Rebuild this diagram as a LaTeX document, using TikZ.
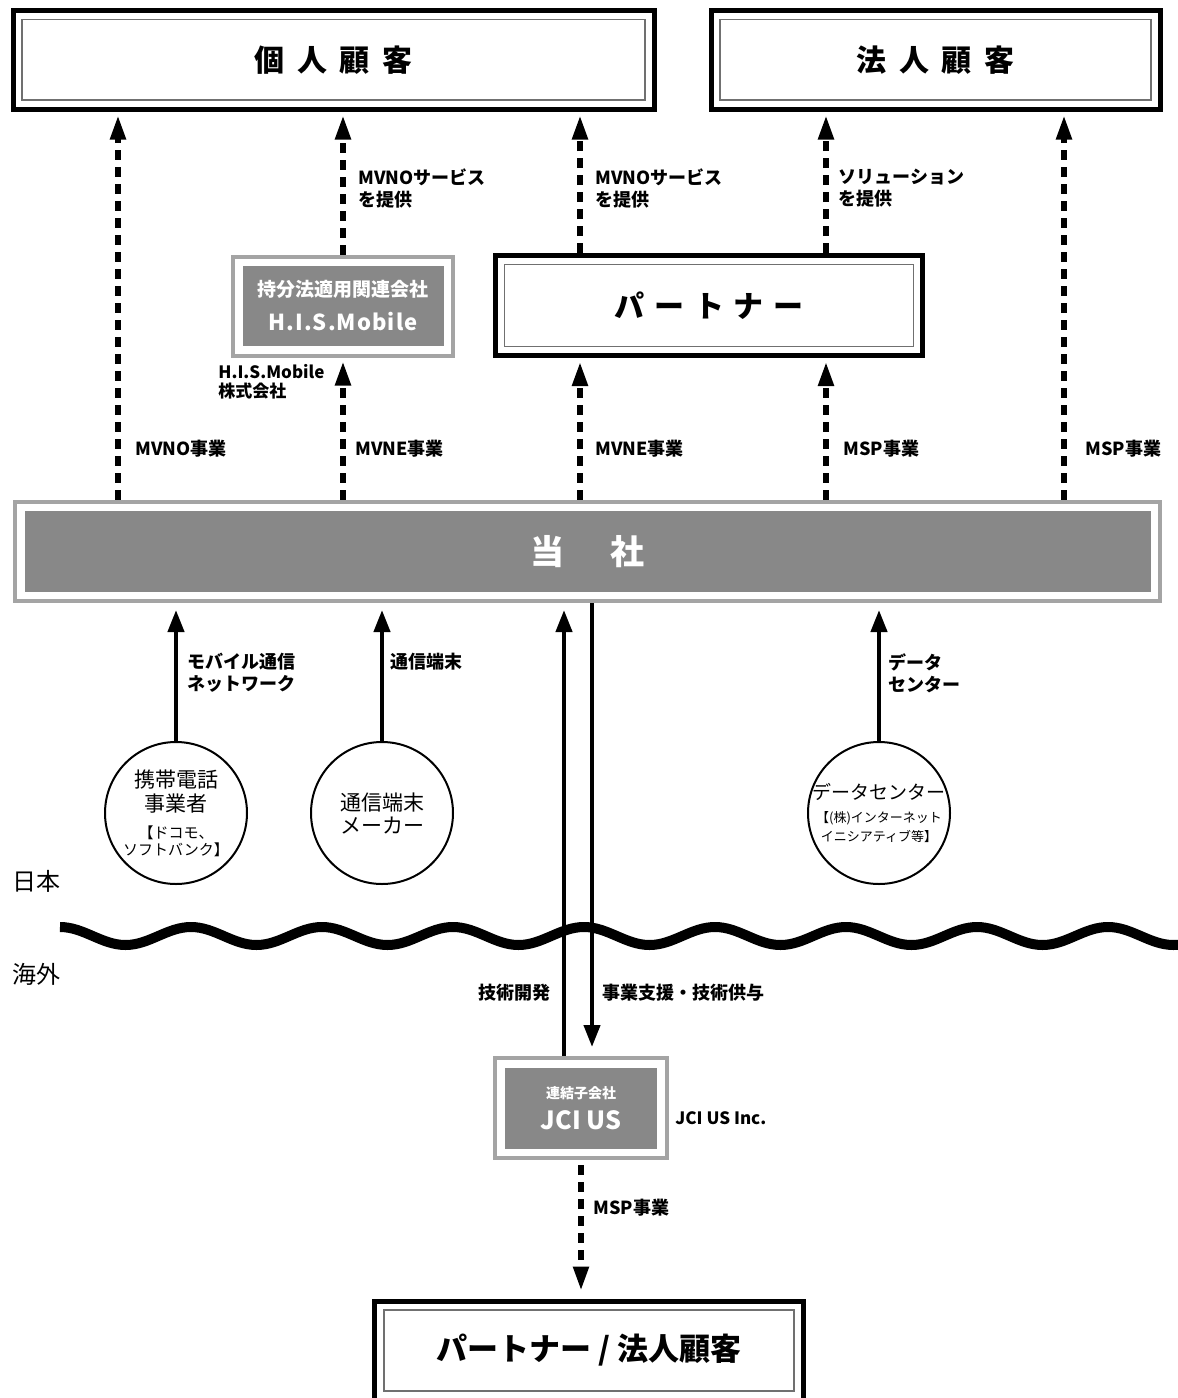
\documentclass[tikz,border=0pt]{standalone}
\usepackage{fontspec}
\setmainfont{Noto Sans CJK JP}
\usetikzlibrary{arrows.meta,positioning}
\definecolor{boxgray}{HTML}{888888}
\definecolor{rimgray}{HTML}{A4A4A4}
\definecolor{linegray}{HTML}{707070}
\newcommand{\cnote}{\fontsize{7.5}{8.5}\selectfont}
\newcommand{\dnote}{\fontsize{6.5}{8}\selectfont}
\begin{document}
\begin{tikzpicture}[x=0.5pt, y=-0.5pt,
  wbox/.style = {draw, line width=2.5pt, inner sep=0pt,
    path picture={\draw[linegray, line width=0.9pt]
      ([shift={(9,9)}]path picture bounding box.north west) rectangle
      ([shift={(-9,-9)}]path picture bounding box.south east);}},
  gbox/.style = {draw=rimgray, line width=2pt, inner sep=0pt, text=white, align=center,
    path picture={\fill[boxgray]
      ([shift={(9.5,9.5)}]path picture bounding box.north west) rectangle
      ([shift={(-9.5,-9.5)}]path picture bounding box.south east);}},
  circ/.style = {draw, circle, line width=1pt, minimum size=71pt, inner sep=-6pt, align=center},
  lbl/.style = {anchor=west, align=left, inner sep=0pt, font=\fontsize{9}{11}\selectfont\bfseries},
  area/.style = {anchor=west, inner sep=0pt, font=\fontsize{12}{12}\selectfont},
  dasharrow/.style = {line width=2.6pt, dash pattern=on 5pt off 3.5pt, -{Triangle[length=12pt,width=7.5pt]}},
  solidarrow/.style = {line width=2.1pt, -{Triangle[length=11pt,width=8pt]}}]
  \useasboundingbox (0,0) rectangle (1178,1398);

  \node[wbox, minimum width=320.5pt, minimum height=49.25pt, font=\fontsize{15}{15}\selectfont\bfseries] (kojin) at (333.5,59.75)
    {個\hspace{.42em}人\hspace{.42em}顧\hspace{.42em}客\hspace{.8em}};
  \node[wbox, minimum width=224.5pt, minimum height=49.25pt, font=\fontsize{15}{15}\selectfont\bfseries] (houjin) at (935.5,59.75)
    {法\hspace{.42em}人\hspace{.42em}顧\hspace{.42em}客};
  \node[gbox, minimum width=110pt, minimum height=49.5pt, font=\fontsize{9.5}{15}\selectfont\bfseries] (his) at (343,306)
    {持分法適用関連会社\\[2pt]{\fontsize{11}{15}\selectfont\addfontfeatures{LetterSpace=5}H.I.S.Mobile}};
  \node[wbox, minimum width=213.5pt, minimum height=50pt, font=\fontsize{15}{15}\selectfont\bfseries] (partner) at (709,305.5)
    {パ\hspace{.33em}ー\hspace{.33em}ト\hspace{.33em}ナ\hspace{.33em}ー};
  \node[gbox, minimum width=572.5pt, minimum height=49.75pt, font=\fontsize{17}{17}\selectfont\bfseries] (tosha) at (587.5,551.25)
    {当\hspace{1.35em}社};

  \node[circ, font=\fontsize{10.5}{12}\selectfont] (carrier) at (176,813)
    {携帯電話\\事業者\\[1.5pt]{\cnote 【ドコモ、}\\[-3.5pt]{\cnote ソフトバンク】}};
  \node[circ, font=\fontsize{10.5}{11.5}\selectfont] (maker) [right=31pt of carrier]
    {通信端末\\メーカー};
  \node[circ, font=\fontsize{9.5}{11.5}\selectfont] (dc) at (879,813)
    {データセンター\\{\dnote 【(株)インターネット}\\[-2pt]{\dnote イニシアティブ等】}};

  \node[area] (nihon) at (12,881) {日本};
  \node[area] (kaigai) [below=35pt of nihon.south west, anchor=north west] {海外};

  \node[gbox, minimum width=85.75pt, minimum height=50pt, font=\fontsize{7}{15.5}\selectfont\bfseries] (jci) at (581,1108)
    {連結子会社\\{\fontsize{12.5}{15.5}\selectfont JCI US}};
  \node[wbox, minimum width=214.25pt, minimum height=49.5pt, font=\fontsize{15.5}{15.5}\selectfont\bfseries] (bot) at (589,1350.5)
    {パートナー / 法人顧客};

  \draw[line width=5pt] (60,927) \foreach \i in {1,...,9} {
    cos ++(32.75,9) sin ++(32.75,9) cos ++(32.75,-9) sin ++(32.75,-9) };

  \coordinate (mvno) at (118,0);
  \coordinate (p1) at (580,0);
  \coordinate (p2) at (826,0);
  \coordinate (msp) at (1064,0);
  \coordinate (up) at (564,0);
  \coordinate (dn) at (592,0);

  \draw[dasharrow, shorten >=2pt] (mvno |- tosha.north) -- (mvno |- kojin.south);
  \draw[dasharrow, shorten >=2pt] (his.north |- tosha.north) -- (his.south);
  \draw[dasharrow, shorten >=2pt] (his.north) -- (his.north |- kojin.south);
  \draw[dasharrow, shorten >=2pt] (p1 |- tosha.north) -- (p1 |- partner.south);
  \draw[dasharrow, shorten >=2pt] (p1 |- partner.north) -- (p1 |- kojin.south);
  \draw[dasharrow, shorten >=2pt] (p2 |- tosha.north) -- (p2 |- partner.south);
  \draw[dasharrow, shorten >=2pt] (p2 |- partner.north) -- (p2 |- houjin.south);
  \draw[dasharrow, shorten >=2pt] (msp |- tosha.north) -- (msp |- houjin.south);

  \draw[solidarrow, shorten >=3.5pt] (carrier.north) -- (carrier.north |- tosha.south);
  \draw[solidarrow, shorten >=3.5pt] (maker.north) -- (maker.north |- tosha.south);
  \draw[solidarrow, shorten >=3.5pt] (dc.north) -- (dc.north |- tosha.south);
  \draw[solidarrow, shorten >=3.5pt] (up |- jci.north) -- (up |- tosha.south);
  \draw[solidarrow, shorten >=4.5pt] (dn |- tosha.south) -- (dn |- jci.north);
  \draw[dasharrow, shorten <=2.5pt, shorten >=4pt] (jci.south) -- (jci.south |- bot.north);

  \node[lbl] (lsvc1) at (358,188) {MVNOサービス\\を提供};
  \node[lbl] (lsvc2) at (595,188) {MVNOサービス\\を提供};
  \node[lbl] (lsol) at (838,188) {ソリューション\\を提供};
  \node[lbl, font=\fontsize{8.5}{9.5}\selectfont\bfseries] (lhis) at (218,382) {H.I.S.Mobile\\株式会社};
  \node[lbl] (lmvno) at (135,449) {MVNO事業};
  \node[lbl] (lmvne1) at (355,449) {MVNE事業};
  \node[lbl] (lmvne2) at (595,449) {MVNE事業};
  \node[lbl] (lmsp1) at (843,449) {MSP事業};
  \node[lbl] (lmsp2) at (1085,449) {MSP事業};
  \node[lbl] (lnet) at (187,673) {モバイル通信\\ネットワーク};
  \node[lbl] (lterm) at (390,662) {通信端末};
  \node[lbl] (ldata) at (888,673) {データ\\センター};
  \node[lbl, anchor=east] (ldev) at (551,993) {技術開発};
  \node[lbl] (lsup) at (602,993) {事業支援・技術供与};
  \node[lbl, font=\fontsize{8.5}{9.5}\selectfont\bfseries] (ljci) at (675,1118) {JCI US Inc.};
  \node[lbl] (lmsp3) at (593,1208) {MSP事業};
\end{tikzpicture}
\end{document}
